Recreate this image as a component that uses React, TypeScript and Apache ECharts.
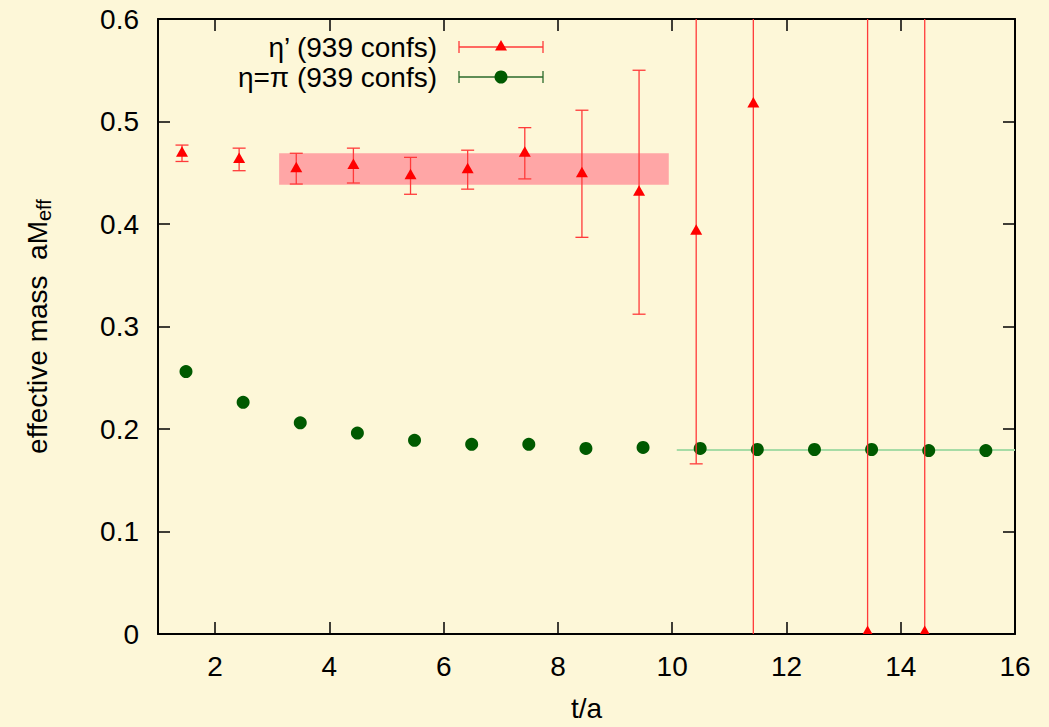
import React, { useEffect, useRef } from "react";
import * as echarts from "echarts";

// η′ effective mass per timeslice (t/a), value and statistical error
const etaPrimeT = [1.42, 2.42, 3.42, 4.42, 5.42, 6.42, 7.42, 8.42, 9.42, 10.42, 11.42, 13.42, 14.42];
const etaPrimeMass = [0.469, 0.463, 0.454, 0.457, 0.447, 0.453, 0.469, 0.449, 0.431, 0.393, 0.517, 0.0015, 0.0015];
const etaPrimeErr = [0.008, 0.011, 0.015, 0.017, 0.018, 0.019, 0.025, 0.062, 0.119, 0.227, 0.8, 1.0, 1.0];

// η=π effective mass per timeslice
const etaPiT = [1.49, 2.49, 3.49, 4.49, 5.49, 6.49, 7.49, 8.49, 9.49, 10.49, 11.49, 12.49, 13.49, 14.49, 15.49];
const etaPiMass = [0.256, 0.226, 0.206, 0.196, 0.189, 0.185, 0.185, 0.181, 0.182, 0.181, 0.18, 0.18, 0.18, 0.179, 0.179];

// plateau fits
const etaPrimeFitRange = [3.12, 9.94];
const etaPrimeFitBand = [0.4384, 0.4691];
const etaPiFitRange = [10.08, 16];
const etaPiFitMass = [0.1796, 0.1796];

// axes
const xTicks = [2, 4, 6, 8, 10, 12, 14, 16];
const xRange = [1, 16];
const yRange = [0, 0.6];
const yStep = 0.1;

const legendLabels = ["η’ (939 confs)", "η=π (939 confs)"];

const BG = "#fdf7d8";
const FONT = "'Liberation Sans', Arial, Helvetica, sans-serif";
const FS = 28;
const RED = "#ff0000";
const RED_BAR = "#ff3a3a";
const GREEN = "#005a00";
const GREEN_FIT = "#a6dca6";

export default function App() {
  const ref = useRef<HTMLDivElement>(null);

  useEffect(() => {
    if (!ref.current) return;
    const chart = echarts.init(ref.current, undefined, { renderer: "svg" });

    const axisLine = { show: true, onZero: false, lineStyle: { color: "#000", width: 2 } };
    const tickStyle = { color: "#000", width: 1.5 };
    const labelStyle = { color: "#000", fontSize: FS, fontFamily: FONT };

    const errData = etaPrimeT.map((t, i) => [t, etaPrimeMass[i], etaPrimeErr[i]]);

    const lx0 = 459;
    const lx1 = 543;
    const lxm = 501;
    const ly = [47, 77];
    const capH = 6;

    chart.setOption({
      animation: false,
      backgroundColor: BG,
      grid: { left: 158, top: 19, right: 34, bottom: 89, containLabel: false },
      xAxis: [
        {
          type: "value",
          min: xRange[0],
          max: xRange[1],
          position: "bottom",
          axisLine,
          axisTick: { show: true, inside: true, length: 12, customValues: xTicks, lineStyle: tickStyle },
          axisLabel: { ...labelStyle, customValues: xTicks, margin: 18 },
          splitLine: { show: false },
          name: "t/a",
          nameLocation: "middle",
          nameGap: 74,
          nameTextStyle: { ...labelStyle, verticalAlign: "middle" },
        },
        {
          type: "value",
          min: xRange[0],
          max: xRange[1],
          position: "top",
          axisLine,
          axisTick: { show: true, inside: true, length: 12, customValues: xTicks, lineStyle: tickStyle },
          axisLabel: { show: false },
          splitLine: { show: false },
        },
      ],
      yAxis: [
        {
          type: "value",
          min: yRange[0],
          max: yRange[1],
          interval: yStep,
          position: "left",
          axisLine,
          axisTick: { show: true, inside: true, length: 12, lineStyle: tickStyle },
          axisLabel: { ...labelStyle, margin: 19 },
          splitLine: { show: false },
          name: "{a|effective mass  aM}{s|eff}",
          nameLocation: "middle",
          nameRotate: 90,
          nameGap: 121,
          nameTextStyle: {
            ...labelStyle,
            verticalAlign: "middle",
            rich: {
              a: { fontSize: FS, fontFamily: FONT, color: "#000", lineHeight: 36, verticalAlign: "middle" },
              s: { fontSize: 20, fontFamily: FONT, color: "#000", lineHeight: 36, verticalAlign: "bottom", padding: [0, 0, 1, 0] },
            },
          },
        },
        {
          type: "value",
          min: yRange[0],
          max: yRange[1],
          interval: yStep,
          position: "right",
          axisLine,
          axisTick: { show: true, inside: true, length: 12, lineStyle: tickStyle },
          axisLabel: { show: false },
          splitLine: { show: false },
        },
      ],
      series: [
        {
          name: "η′ fit",
          type: "custom",
          silent: true,
          clip: true,
          z: 1,
          data: [[etaPrimeFitRange[0], etaPrimeFitRange[1], etaPrimeFitBand[0], etaPrimeFitBand[1]]],
          encode: { x: [0, 1], y: [2, 3] },
          renderItem: (_p: any, api: any) => {
            const a = api.coord([api.value(0), api.value(3)]);
            const b = api.coord([api.value(1), api.value(2)]);
            return {
              type: "rect",
              shape: { x: a[0], y: a[1], width: b[0] - a[0], height: b[1] - a[1] },
              style: { fill: "#ffa6a6" },
            };
          },
        },
        {
          name: "η=π fit",
          type: "line",
          silent: true,
          z: 2,
          symbol: "none",
          data: etaPiFitRange.map((t, i) => [t, etaPiFitMass[i]]),
          lineStyle: { color: GREEN_FIT, width: 2 },
        },
        {
          name: legendLabels[1],
          type: "scatter",
          z: 3,
          symbol: "circle",
          symbolSize: 13,
          data: etaPiT.map((t, i) => [t, etaPiMass[i]]),
          itemStyle: { color: GREEN, opacity: 1 },
        },
        {
          name: legendLabels[0],
          type: "custom",
          clip: true,
          z: 4,
          data: errData,
          encode: { x: 0, y: 1 },
          renderItem: (_p: any, api: any) => {
            const t = api.value(0);
            const m = api.value(1);
            const e = api.value(2);
            const c = api.coord([t, m]);
            const hi = api.coord([t, m + e]);
            const lo = api.coord([t, m - e]);
            const w = 6.5;
            const ls = { stroke: RED_BAR, lineWidth: 1.3 };
            return {
              type: "group",
              children: [
                { type: "line", shape: { x1: c[0], y1: hi[1], x2: c[0], y2: lo[1] }, style: ls },
                { type: "line", shape: { x1: c[0] - w, y1: hi[1], x2: c[0] + w, y2: hi[1] }, style: ls },
                { type: "line", shape: { x1: c[0] - w, y1: lo[1], x2: c[0] + w, y2: lo[1] }, style: ls },
                {
                  type: "polygon",
                  shape: { points: [[c[0], c[1] - 7], [c[0] - 6, c[1] + 3.5], [c[0] + 6, c[1] + 3.5]] },
                  style: { fill: RED },
                },
              ],
            };
          },
        },
      ],
      graphic: [
        {
          type: "text",
          x: 437,
          y: ly[0],
          style: { text: legendLabels[0], font: `${FS}px ${FONT}`, fill: "#000", align: "right", verticalAlign: "middle", textAlign: "right", textVerticalAlign: "middle" },
        },
        {
          type: "text",
          x: 437,
          y: ly[1],
          style: { text: legendLabels[1], font: `${FS}px ${FONT}`, fill: "#000", align: "right", verticalAlign: "middle", textAlign: "right", textVerticalAlign: "middle" },
        },
        { type: "line", shape: { x1: lx0, y1: ly[0], x2: lx1, y2: ly[0] }, style: { stroke: RED_BAR, lineWidth: 1.3 } },
        { type: "line", shape: { x1: lx0, y1: ly[0] - capH, x2: lx0, y2: ly[0] + capH }, style: { stroke: RED_BAR, lineWidth: 1.3 } },
        { type: "line", shape: { x1: lx1, y1: ly[0] - capH, x2: lx1, y2: ly[0] + capH }, style: { stroke: RED_BAR, lineWidth: 1.3 } },
        { type: "polygon", shape: { points: [[lxm, ly[0] - 7], [lxm - 6, ly[0] + 3.5], [lxm + 6, ly[0] + 3.5]] }, style: { fill: RED } },
        { type: "line", shape: { x1: lx0, y1: ly[1], x2: lx1, y2: ly[1] }, style: { stroke: "#2a6a2a", lineWidth: 1.3 } },
        { type: "line", shape: { x1: lx0, y1: ly[1] - capH, x2: lx0, y2: ly[1] + capH }, style: { stroke: "#2a6a2a", lineWidth: 1.3 } },
        { type: "line", shape: { x1: lx1, y1: ly[1] - capH, x2: lx1, y2: ly[1] + capH }, style: { stroke: "#2a6a2a", lineWidth: 1.3 } },
        { type: "circle", shape: { cx: lxm, cy: ly[1], r: 6.5 }, style: { fill: GREEN } },
      ],
    });

    return () => chart.dispose();
  }, []);

  return (
    <div
      ref={ref}
      style={{ position: "absolute", left: 0, top: 0, width: 1049, height: 727, background: BG }}
    />
  );
}
